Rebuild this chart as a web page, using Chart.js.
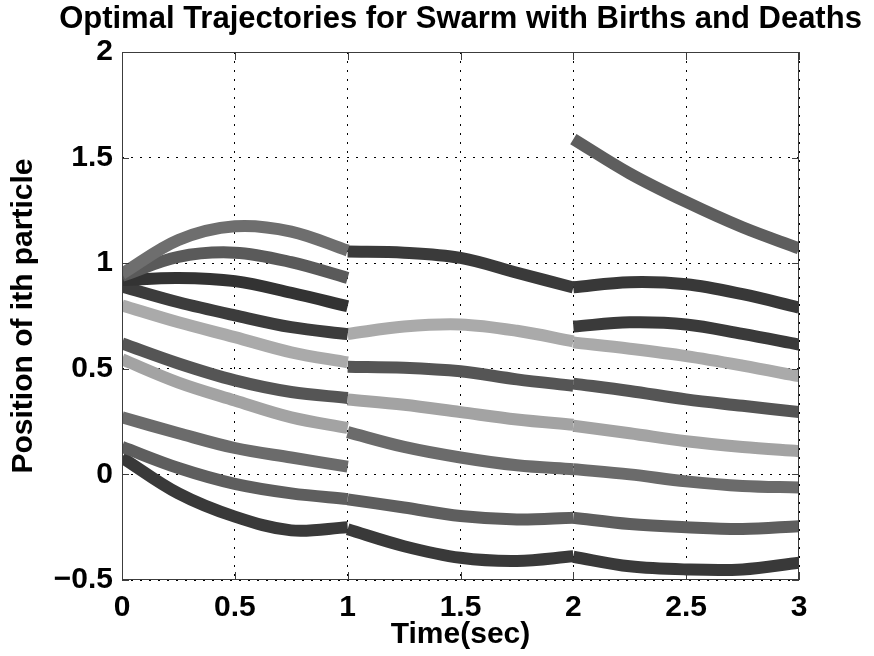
<!DOCTYPE html>
<html>
<head>
<meta charset="utf-8">
<script src="https://cdn.jsdelivr.net/npm/chart.js@4.4.1/dist/chart.umd.min.js"></script>
<style>
  html, body { margin: 0; padding: 0; background: #ffffff; }
  canvas { display: block; }
</style>
</head>
<body>
<canvas id="chart" width="874" height="656"></canvas>
<script>
// Sample times for each of the three control intervals
const timesA = [0, 0.25, 0.5, 0.75, 1];
const timesB = [1, 1.25, 1.5, 1.75, 2];
const timesC = [2, 2.25, 2.5, 2.75, 3];

// Interval 0–1: ten particles
const a1  = [0.95, 1.11, 1.175, 1.15, 1.06];
const a2  = [0.94, 1.03, 1.05, 1.005, 0.93];
const a3  = [0.92, 0.93, 0.915, 0.86, 0.796];
const a4  = [0.89, 0.815, 0.753, 0.697, 0.664];
const a5  = [0.80, 0.72, 0.65, 0.578, 0.53];
const a6  = [0.62, 0.525, 0.445, 0.39, 0.362];
const a7  = [0.545, 0.435, 0.35, 0.27, 0.22];
const a8  = [0.27, 0.195, 0.125, 0.08, 0.037];
const a9  = [0.13, 0.03, -0.045, -0.09, -0.117];
const a10 = [0.08, -0.09, -0.2, -0.265, -0.25];

// Interval 1–2: seven particles
const b1 = [1.055, 1.05, 1.025, 0.955, 0.885];
const b2 = [0.665, 0.70, 0.71, 0.68, 0.63];
const b3 = [0.51, 0.505, 0.488, 0.45, 0.42];
const b4 = [0.355, 0.33, 0.295, 0.26, 0.235];
const b5 = [0.20, 0.13, 0.08, 0.043, 0.024];
const b6 = [-0.118, -0.157, -0.197, -0.213, -0.205];
const b7 = [-0.26, -0.34, -0.395, -0.41, -0.388];

// Interval 2–3: nine particles (two newborn)
const c1 = [1.588, 1.425, 1.29, 1.17, 1.07];
const c2 = [0.886, 0.91, 0.90, 0.853, 0.79];
const c3 = [0.70, 0.72, 0.71, 0.665, 0.615];
const c4 = [0.625, 0.595, 0.56, 0.515, 0.465];
const c5 = [0.43, 0.395, 0.355, 0.325, 0.295];
const c6 = [0.23, 0.195, 0.157, 0.13, 0.11];
const c7 = [0.025, 0.0, -0.033, -0.055, -0.062];
const c8 = [-0.205, -0.235, -0.25, -0.258, -0.245];
const c9 = [-0.39, -0.435, -0.45, -0.45, -0.418];

// Grey shade of every trajectory piece
const shadesA = ['#6e6e6e', '#5a5a5a', '#333333', '#3c3c3c', '#aaaaaa', '#555555', '#a3a3a3', '#6b6b6b', '#5e5e5e', '#393939'];
const shadesB = ['#3a3a3a', '#aaaaaa', '#555555', '#a3a3a3', '#6b6b6b', '#5e5e5e', '#393939'];
const shadesC = ['#5e5e5e', '#383838', '#3a3a3a', '#aaaaaa', '#555555', '#a3a3a3', '#6b6b6b', '#5e5e5e', '#393939'];

// Axis tick labels
const xTickLabels = ['0', '0.5', '1', '1.5', '2', '2.5', '3'];
const yTickLabels = ['\u22120.5', '0', '0.5', '1', '1.5', '2'];

const chartTitle = 'Optimal Trajectories for Swarm with Births and Deaths';
const FONT = '"Liberation Sans", Arial, Helvetica, sans-serif';

function piece(times, values, color) {
  return {
    data: times.map((t, i) => ({ x: t, y: values[i] })),
    borderColor: color,
    borderWidth: 12,
    borderCapStyle: 'butt',
    borderJoinStyle: 'round',
    pointRadius: 0,
    tension: 0.35,
    fill: false
  };
}

const datasets = [];
[a1, a2, a3, a4, a5, a6, a7, a8, a9, a10].forEach((v, i) => datasets.push(piece(timesA, v, shadesA[i])));
[b1, b2, b3, b4, b5, b6, b7].forEach((v, i) => datasets.push(piece(timesB, v, shadesB[i])));
[c1, c2, c3, c4, c5, c6, c7, c8, c9].forEach((v, i) => datasets.push(piece(timesC, v, shadesC[i])));

// Boxed axes with inward ticks on all four sides, and the title centred over the plot
const boxFrame = {
  id: 'boxFrame',
  afterDraw(chart) {
    const { ctx, chartArea: a, scales } = chart;
    ctx.save();
    ctx.strokeStyle = '#3c3c3c';
    ctx.lineWidth = 1;
    ctx.strokeRect(a.left + 0.5, a.top + 0.5, a.right - a.left - 1, a.bottom - a.top - 1);
    ctx.beginPath();
    scales.x.ticks.forEach(t => {
      const px = Math.round(scales.x.getPixelForValue(t.value)) + 0.5;
      ctx.moveTo(px, a.bottom); ctx.lineTo(px, a.bottom - 8);
      ctx.moveTo(px, a.top); ctx.lineTo(px, a.top + 8);
    });
    scales.y.ticks.forEach(t => {
      const py = Math.round(scales.y.getPixelForValue(t.value)) + 0.5;
      ctx.moveTo(a.left, py); ctx.lineTo(a.left + 7, py);
      ctx.moveTo(a.right, py); ctx.lineTo(a.right - 7, py);
    });
    ctx.stroke();

    ctx.fillStyle = '#000000';
    ctx.font = 'bold 31px ' + FONT;
    ctx.textAlign = 'center';
    ctx.textBaseline = 'alphabetic';
    ctx.fillText(chartTitle, (a.left + a.right) / 2, 28);
    ctx.restore();
  }
};

new Chart(document.getElementById('chart'), {
  type: 'line',
  data: { datasets },
  options: {
    responsive: false,
    devicePixelRatio: 1,
    animation: false,
    layout: { padding: { left: 0, right: 75, top: 52, bottom: 0 } },
    plugins: {
      legend: { display: false },
      tooltip: { enabled: false },
      title: { display: false }
    },
    scales: {
      x: {
        type: 'linear',
        min: 0,
        max: 3,
        afterFit(scale) { scale.height = 76; },
        ticks: {
          stepSize: 0.5,
          color: '#000000',
          padding: 10,
          maxRotation: 0,
          font: { family: FONT, size: 30, weight: 'bold' },
          callback: (v, i) => xTickLabels[i]
        },
        grid: { color: '#000000', lineWidth: 1, drawTicks: false },
        border: { display: false, dash: [2, 7] },
        title: {
          display: true,
          text: 'Time(sec)',
          color: '#000000',
          font: { family: FONT, size: 30, weight: 'bold' },
          padding: { top: 0, bottom: 3 }
        }
      },
      y: {
        type: 'linear',
        min: -0.5,
        max: 2,
        afterFit(scale) { scale.width = 122; },
        ticks: {
          stepSize: 0.5,
          color: '#000000',
          padding: 9,
          font: { family: FONT, size: 30, weight: 'bold' },
          callback: (v, i) => yTickLabels[i]
        },
        grid: { color: '#000000', lineWidth: 1, drawTicks: false },
        border: { display: false, dash: [2, 7] },
        title: {
          display: true,
          text: 'Position of ith particle',
          color: '#000000',
          font: { family: FONT, size: 30, weight: 'bold' },
          padding: { top: 6, bottom: 0 }
        }
      }
    }
  },
  plugins: [boxFrame]
});
</script>
</body>
</html>
